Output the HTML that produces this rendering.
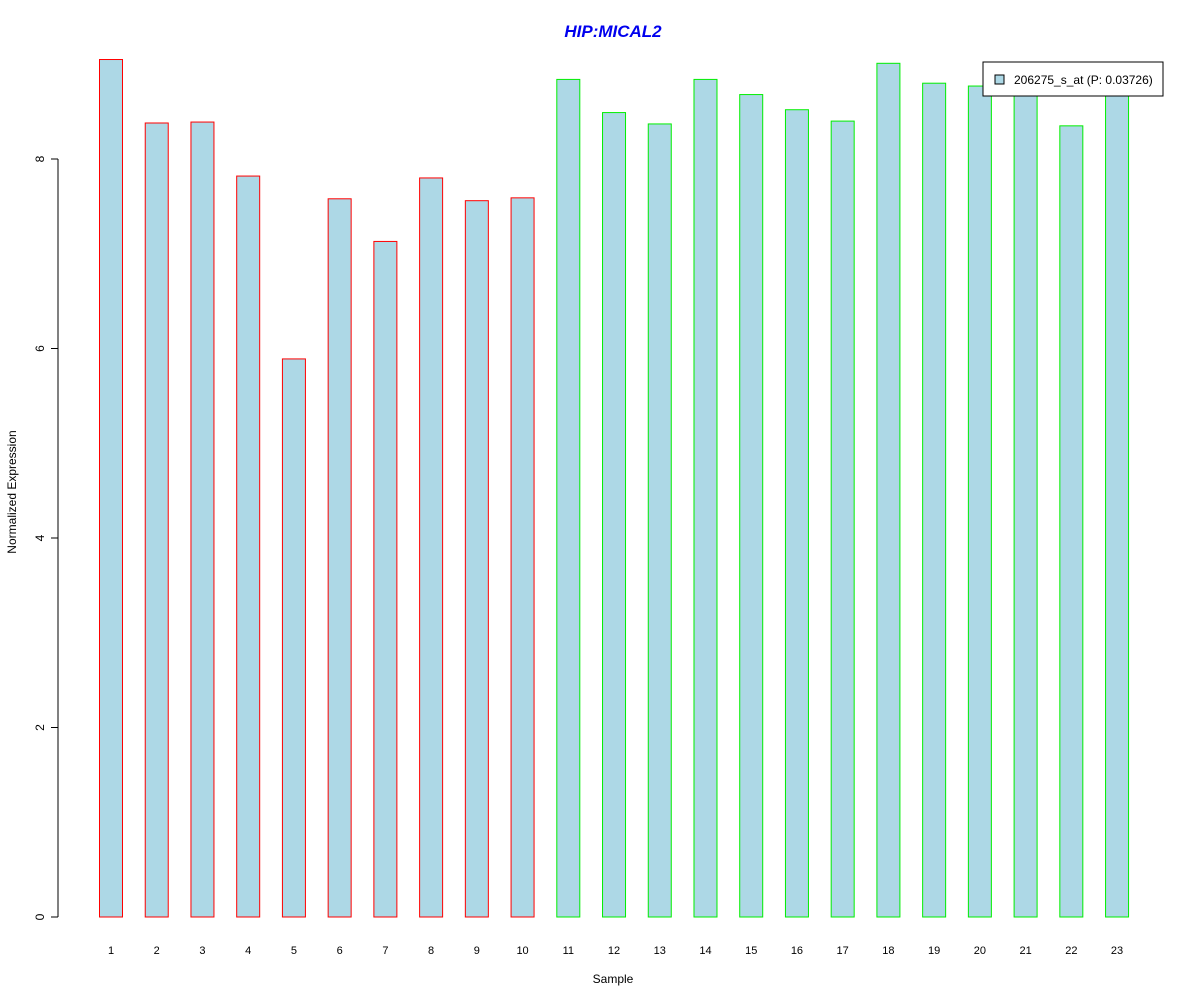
<!DOCTYPE html>
<html><head><meta charset="utf-8"><style>
body{margin:0;background:#fff;}
svg{display:block;font-family:"Liberation Sans",Arial,sans-serif;}
</style></head><body>
<svg id="chart" width="1200" height="1000" viewBox="0 0 1200 1000">
<rect width="1200" height="1000" fill="#fff"/>
<text x="613" y="37" text-anchor="middle" font-size="17" font-weight="bold" font-style="italic" fill="#0000ee">HIP:MICAL2</text>
<g id="yaxis"></g>
<g id="bars"></g>
<g id="xlabels"></g>
<text x="613" y="983" text-anchor="middle" font-size="12">Sample</text>
<text transform="translate(16,492) rotate(-90)" text-anchor="middle" font-size="12">Normalized Expression</text>
<g>
<rect x="983" y="62" width="180" height="34" fill="#fff" stroke="#000"/>
<rect x="995" y="75" width="9" height="9" fill="#add8e6" stroke="#000"/>
<text x="1014" y="84" font-size="12">206275_s_at (P: 0.03726)</text>
</g>
</svg>
<script>
const categories = ["1","2","3","4","5","6","7","8","9","10","11","12","13","14","15","16","17","18","19","20","21","22","23"];
const values = [9.05,8.38,8.39,7.82,5.89,7.58,7.13,7.80,7.56,7.59,8.84,8.49,8.37,8.84,8.68,8.52,8.40,9.01,8.80,8.77,8.67,8.35,8.67];
const groups = ["a","a","a","a","a","a","a","a","a","a","b","b","b","b","b","b","b","b","b","b","b","b","b"];
const yTicks = [0,2,4,6,8];
const NS="http://www.w3.org/2000/svg";
const y = v => 917 - v*94.75;
const x = i => 111 + i*45.73;
const bw = 23;
function mk(tag, attrs, parent){const e=document.createElementNS(NS,tag);for(const k in attrs)e.setAttribute(k,attrs[k]);parent.appendChild(e);return e;}
const ya=document.getElementById('yaxis');
const yl=mk('line',{x1:58,x2:58,y1:y(yTicks[yTicks.length-1]),y2:y(yTicks[0]),stroke:'#000'},ya);


yTicks.forEach(t=>{
  const tk=mk('line',{x1:51,x2:58,y1:y(t),y2:y(t),stroke:'#000'},ya);
  
  
  const tx=mk('text',{transform:`translate(44,${y(t)}) rotate(-90)`,'text-anchor':'middle','font-size':12},ya);
  tx.textContent=t;
  
  
});
const bg=document.getElementById('bars'), xg=document.getElementById('xlabels');
values.forEach((v,i)=>{
  const r=mk('rect',{x:x(i)-bw/2,y:y(v),width:bw,height:y(0)-y(v),fill:'#add8e6',stroke:groups[i]==='a'?'#ff0000':'#00ee00'},bg);
  
  
  const t=mk('text',{x:x(i),y:954,'text-anchor':'middle','font-size':11},xg);
  t.textContent=categories[i];
  
  
});
</script>
</body></html>
